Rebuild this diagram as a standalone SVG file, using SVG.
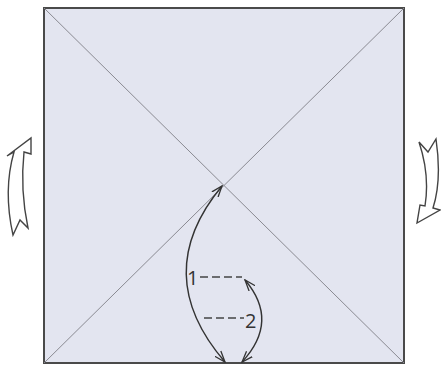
<svg xmlns="http://www.w3.org/2000/svg" width="441" height="368" viewBox="0 0 441 368">
<style>
.sq{fill:#e3e5f0;stroke:#4a4a4a;stroke-width:2}
.diag{stroke:#8a8a92;stroke-width:1;fill:none}
.arc{fill:none;stroke:#333;stroke-width:1.4}
.dash{fill:none;stroke:#444;stroke-width:1.4;stroke-dasharray:8 4}
.side{fill:#fff;stroke:#444;stroke-width:1.4;stroke-linejoin:miter}
.lbl{font-family:"Open Sans","Noto Sans",sans-serif;font-size:20px;fill:#333}
</style>
<defs>
<marker id="open" viewBox="0 0 12 12" refX="11" refY="6" markerWidth="12" markerHeight="12" markerUnits="userSpaceOnUse" orient="auto-start-reverse">
<path d="M0,2 L11,6 L0,10" fill="none" stroke="#333" stroke-width="1.3"/>
</marker>
</defs>
<rect width="441" height="368" fill="#fff"/>
<g id="square">
<rect class="sq" x="44" y="8" width="360" height="355"/>
<line class="diag" x1="44" y1="8" x2="404" y2="363"/>
<line class="diag" x1="404" y1="8" x2="44" y2="363"/>
</g>
<g id="turn-left">
<path class="side" d="M31,138 L31,154 L24,152 Q20,190 28,228 L20,220 L13,235 Q3,190 14,152 L7,156 Z"/>
</g>
<g id="turn-right">
<path class="side" d="M419,142 L428,152 L436,139 Q442,180 433,208 L440,210 L417,223 L420,205 L425,206 Q430,175 419,142 Z"/>
</g>
<g id="labels">
<text class="lbl" x="187" y="285">1</text>
<text class="lbl" x="245" y="328">2</text>
</g>
<g id="connectors">
<path class="arc" d="M225,362 Q149,274 222,186" marker-start="url(#open)" marker-end="url(#open)"/>
<path class="arc" d="M242,362 Q280,321 245,280" marker-start="url(#open)" marker-end="url(#open)"/>
<line class="dash" x1="200" y1="277" x2="242" y2="277"/>
<line class="dash" x1="204" y1="318" x2="244" y2="318"/>
</g>
</svg>
